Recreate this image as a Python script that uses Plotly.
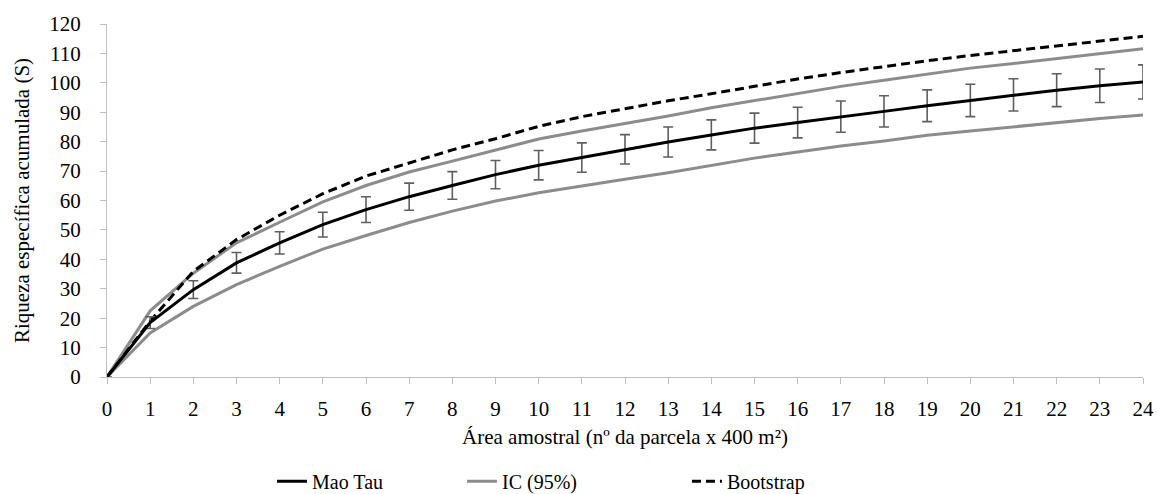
import plotly.graph_objects as go

parcelas = list(range(0, 25))
mao_tau = [0, 18.5, 29.7, 38.8, 45.6, 51.8, 56.9, 61.3, 65.1, 68.8, 72.0, 74.6, 77.4,
           79.9, 82.3, 84.6, 86.5, 88.5, 90.3, 92.2, 94.0, 95.9, 97.5, 99.0, 100.3]
mao_tau_err = [0, 2.0, 3.0, 3.5, 3.8, 4.2, 4.4, 4.6, 4.7, 4.8, 5.0, 5.0, 5.0,
               5.1, 5.1, 5.1, 5.2, 5.3, 5.3, 5.4, 5.5, 5.5, 5.6, 5.7, 5.8]
ic_sup = [0, 22.5, 35.3, 45.6, 52.6, 59.5, 65.1, 69.7, 73.4, 77.2, 80.9, 83.6, 86.1,
          88.7, 91.5, 94.0, 96.5, 98.8, 100.9, 103.0, 105.0, 106.6, 108.3, 110.1, 111.6]
ic_inf = [0, 15.0, 24.0, 31.4, 37.6, 43.5, 48.1, 52.5, 56.4, 59.8, 62.6, 65.0, 67.2,
          69.4, 71.9, 74.4, 76.5, 78.5, 80.2, 82.2, 83.6, 85.1, 86.5, 87.9, 89.1]
bootstrap = [0, 19.0, 35.9, 46.7, 55.0, 62.3, 68.3, 72.8, 77.2, 81.0, 85.2, 88.5, 91.3,
             93.9, 96.3, 98.9, 101.3, 103.5, 105.6, 107.5, 109.3, 110.9, 112.6, 114.3, 115.8]
y_ticks = list(range(0, 121, 10))

FONT = "'Liberation Serif', 'Times New Roman', Times, serif"
GRAY = "#8c8c8c"
AXIS = "#bfbfbf"
FS = 21
LFS = 20

fig = go.Figure()

fig.add_trace(go.Scatter(
    x=parcelas, y=ic_sup, mode="lines", name="IC (95%)", legend="legend2",
    line=dict(color=GRAY, width=3), cliponaxis=False))
fig.add_trace(go.Scatter(
    x=parcelas, y=ic_inf, mode="lines", name="IC (95%)", showlegend=False,
    legend="legend2", line=dict(color=GRAY, width=3), cliponaxis=False))
fig.add_trace(go.Scatter(
    x=parcelas, y=bootstrap, mode="lines", name="Bootstrap", legend="legend3",
    line=dict(color="black", width=3, dash="9px,5px"), cliponaxis=False))
fig.add_trace(go.Scatter(
    x=parcelas, y=mao_tau, mode="lines", name="Mao Tau", legend="legend",
    line=dict(color="black", width=3), cliponaxis=False,
    error_y=dict(type="data", array=mao_tau_err, visible=True,
                 color="#5f5f5f", thickness=1.6, width=5)))

leg_common = dict(orientation="h", xanchor="left", y=-0.295, yanchor="middle",
                  font=dict(family=FONT, size=LFS, color="black"),
                  bgcolor="rgba(0,0,0,0)")

fig.update_layout(
    width=1158, height=494,
    margin=dict(l=107, r=15, t=24, b=117, autoexpand=False),
    paper_bgcolor="white", plot_bgcolor="white",
    font=dict(family=FONT, size=FS, color="black"),
    showlegend=True,
    legend=dict(x=0.1593, **leg_common),
    legend2=dict(x=0.3427, **leg_common),
    legend3=dict(x=0.5598, **leg_common),
    xaxis=dict(
        range=[0, 24], tickmode="array", tickvals=parcelas,
        ticktext=[str(v) for v in parcelas],
        showline=True, linecolor=AXIS, linewidth=1.3,
        ticks="outside", ticklen=6, tickcolor=AXIS, tickwidth=1.3,
        showgrid=False, zeroline=False, automargin=False,
        tickfont=dict(family=FONT, size=FS, color="black"),
        ticklabelstandoff=7,
        title=dict(text="Área amostral (nº da parcela x 400 m²)",
                   font=dict(family=FONT, size=FS, color="black"), standoff=8),
    ),
    yaxis=dict(
        range=[0, 120], tickmode="array", tickvals=y_ticks,
        ticktext=[str(v) for v in y_ticks],
        showline=True, linecolor=AXIS, linewidth=1.3,
        ticks="outside", ticklen=6, tickcolor=AXIS, tickwidth=1.3,
        showgrid=False, zeroline=False, automargin=False,
        tickfont=dict(family=FONT, size=FS, color="black"),
        ticklabelstandoff=15,
        title=dict(text="Riqueza específica acumulada (S)",
                   font=dict(family=FONT, size=FS, color="black"), standoff=13),
    ),
)

fig.write_html(
    "out.html",
    config={"displayModeBar": False},
    post_script="document.body.style.margin='0';document.body.style.overflow='hidden';",
)
